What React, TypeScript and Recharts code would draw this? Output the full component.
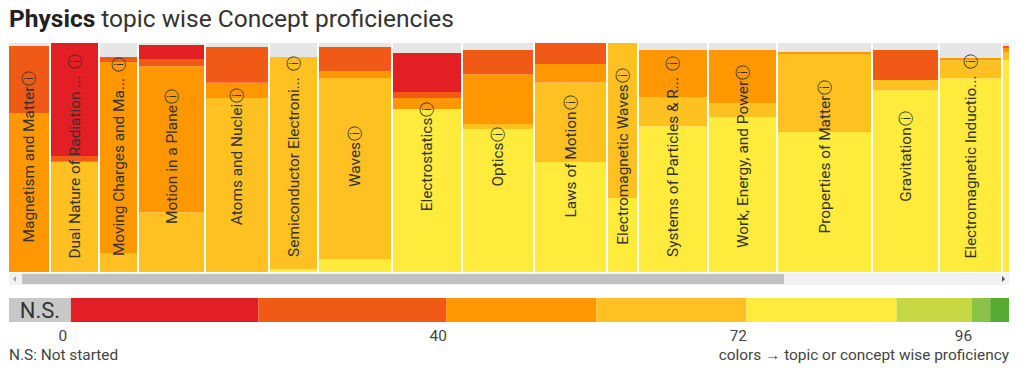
import { ComposedChart, XAxis, YAxis, ReferenceArea } from "recharts";

// topics (columns) as seen in the visible part of the scroller
const topics = [
  "Magnetism and Matter",
  "Dual Nature of Radiation ...",
  "Moving Charges and Ma...",
  "Motion in a Plane",
  "Atoms and Nuclei",
  "Semiconductor Electroni...",
  "Waves",
  "Electrostatics",
  "Optics",
  "Laws of Motion",
  "Electromagnetic Waves",
  "Systems of Particles & R...",
  "Work, Energy, and Power",
  "Properties of Matter",
  "Gravitation",
  "Electromagnetic Inductio...",
  "Current Electricity",
];

// relative column weight (concept count share)
const topicWeights = [42, 49, 39, 67, 64, 49, 74, 70, 72, 73, 31, 70, 69, 95, 67, 63, 66];

// % of concepts in each proficiency band, per topic
const notStarted = [1.3, 0, 6.1, 0.9, 1.7, 6.1, 1.7, 4.4, 3.1, 0, 0, 3.1, 3.1, 3.9, 3.1, 6.6, 1.3];
const bandRed = [0, 49.3, 0, 6.1, 0, 0, 0, 17.0, 0, 0, 0, 0, 0, 0, 0, 0, 0];
const bandOrangeRed = [29.3, 2.6, 2.2, 3.1, 15.7, 0, 10.5, 2.6, 10.5, 9.2, 0, 0, 0, 0, 13.1, 0, 0.9];
const bandOrange = [69.4, 0, 83.4, 63.8, 6.6, 0, 3.1, 4.8, 21.8, 7.9, 0, 20.5, 23.1, 0.9, 0, 0.9, 1.7];
const bandLightOrange = [0, 48.1, 8.3, 26.1, 76.0, 92.6, 79.0, 0, 2.2, 34.9, 67.7, 12.7, 6.1, 34.1, 4.4, 7.9, 3.5];
const bandYellow = [0, 0, 0, 0, 0, 1.3, 5.7, 71.2, 62.4, 48.0, 32.3, 63.7, 67.7, 61.1, 79.4, 84.6, 92.6];

// legend scale
const legendThresholds = [0, 20, 40, 56, 72, 88, 96, 98, 100];
const legendTicks = [0, 40, 72, 96];
const notStartedSpan = 6.6;

const COLORS = {
  ns: "#e6e6e6",
  nsLegend: "#c8c8c8",
  red: "#e31e24",
  orangeRed: "#f15a16",
  orange: "#ff9800",
  lightOrange: "#ffc022",
  yellow: "#ffeb3b",
  lightGreen: "#c6d944",
  green: "#8bc34a",
  darkGreen: "#55aa33",
};
const legendColors = [
  COLORS.red,
  COLORS.orangeRed,
  COLORS.orange,
  COLORS.lightOrange,
  COLORS.yellow,
  COLORS.lightGreen,
  COLORS.green,
  COLORS.darkGreen,
];

const FONT = "Roboto, 'Noto Sans', sans-serif";
const VISIBLE = 1000;
const GAP = 2;
const SMALL = 15.4;

// bottom -> top stacking
const bands = [
  { values: bandYellow, color: COLORS.yellow },
  { values: bandLightOrange, color: COLORS.lightOrange },
  { values: bandOrange, color: COLORS.orange },
  { values: bandOrangeRed, color: COLORS.orangeRed },
  { values: bandRed, color: COLORS.red },
  { values: notStarted, color: COLORS.ns },
];

const columns = (() => {
  let start = 0;
  return topics.map((name, i) => {
    const col = { name, start, end: start + topicWeights[i], index: i, total: 100 };
    start += topicWeights[i];
    return col;
  });
})();

const renderTopicLabel = (name: string) => (props: any) => {
  const { x, y, width, height } = props.viewBox;
  const cx = x + width / 2;
  const cy = y + height / 2 - 1;
  const truncated = name.endsWith("...");
  return (
    <text
      x={cx}
      y={cy}
      transform={`rotate(-90 ${cx} ${cy})`}
      textAnchor="middle"
      dominantBaseline="central"
      fontSize={SMALL}
      fontFamily={FONT}
      fill="#333"
    >
      {name}
      <tspan dx={truncated ? 6 : 1} fontFamily="'DejaVu Sans'" fontSize={15}>
        ⓘ
      </tspan>
    </text>
  );
};

function TopicChart() {
  // only topics whose middle is inside the scrolled view get a label
  const labelled = columns.filter((c) => (c.start + c.end) / 2 < VISIBLE);
  return (
    <ComposedChart
      width={VISIBLE}
      height={229}
      data={columns}
      margin={{ top: 0, right: 0, bottom: 0, left: 0 }}
      style={{ overflow: "hidden" }}
    >
      <XAxis type="number" dataKey="start" domain={[0, VISIBLE]} allowDataOverflow hide />
      <YAxis type="number" dataKey="total" domain={[0, 100]} allowDataOverflow hide />
      {columns.map((col) => {
        let acc = 0;
        return bands.map((band, b) => {
          const v = band.values[col.index];
          const y1 = acc;
          acc += v;
          if (v <= 0) return null;
          return (
            <ReferenceArea
              key={`${col.index}-${b}`}
              x1={col.start}
              x2={col.end - GAP}
              y1={y1}
              y2={acc}
              fill={band.color}
              fillOpacity={1}
              stroke="none"
              ifOverflow="hidden"
            />
          );
        });
      })}
      {labelled.map((col) => (
        <ReferenceArea
          key={`label-${col.index}`}
          x1={col.start}
          x2={col.end - GAP}
          y1={0}
          y2={100}
          fill="none"
          fillOpacity={0}
          stroke="none"
          label={renderTopicLabel(col.name)}
        />
      ))}
    </ComposedChart>
  );
}

function LegendChart() {
  return (
    <ComposedChart
      width={VISIBLE}
      height={50}
      data={legendTicks.map((t) => ({ t, level: 1 }))}
      margin={{ top: 0, right: 0, bottom: 0, left: 0 }}
    >
      <XAxis
        type="number"
        dataKey="t"
        domain={[-notStartedSpan, 100]}
        ticks={legendTicks}
        axisLine={false}
        tickLine={false}
        height={26}
        tick={{ fontSize: SMALL, fill: "#444", fontFamily: FONT, dx: -8 }}
      />
      <YAxis type="number" dataKey="level" domain={[0, 1]} allowDataOverflow hide />
      <ReferenceArea
        x1={-notStartedSpan}
        x2={0}
        y1={0}
        y2={1}
        fill={COLORS.nsLegend}
        fillOpacity={1}
        stroke="none"
        label={{ value: "N.S.", position: "center", fontSize: 22, fill: "#333", fontFamily: FONT }}
      />
      {legendColors.map((c, i) => (
        <ReferenceArea
          key={i}
          x1={legendThresholds[i]}
          x2={legendThresholds[i + 1]}
          y1={0}
          y2={1}
          fill={c}
          fillOpacity={1}
          stroke="none"
        />
      ))}
    </ComposedChart>
  );
}

export default function App() {
  return (
    <div
      style={{
        position: "absolute",
        left: 0,
        top: 0,
        width: 1024,
        height: 377,
        background: "#fff",
        fontFamily: FONT,
        overflow: "hidden",
      }}
    >
      <div
        style={{
          position: "absolute",
          left: 9,
          top: 7,
          fontSize: 24.5,
          lineHeight: "24px",
          color: "#333",
          whiteSpace: "nowrap",
        }}
      >
        <span style={{ fontWeight: 700, color: "#222" }}>Physics</span> topic wise Concept proficiencies
      </div>

      <div style={{ position: "absolute", left: 9, top: 43, width: VISIBLE, height: 229, overflow: "hidden" }}>
        <TopicChart />
      </div>

      {/* scrollbar */}
      <div
        style={{
          position: "absolute",
          left: 9,
          top: 273,
          width: VISIBLE,
          height: 12,
          background: "#f1f1f1",
        }}
      >
        <div
          style={{
            position: "absolute",
            left: 13,
            top: 1,
            width: 762,
            height: 10,
            background: "#c1c1c1",
          }}
        />
        <div
          style={{
            position: "absolute",
            left: 4,
            top: 3,
            width: 0,
            height: 0,
            borderTop: "3px solid transparent",
            borderBottom: "3px solid transparent",
            borderRight: "3px solid #a3a3a3",
          }}
        />
        <div
          style={{
            position: "absolute",
            left: 993,
            top: 3,
            width: 0,
            height: 0,
            borderTop: "3px solid transparent",
            borderBottom: "3px solid transparent",
            borderLeft: "3px solid #505050",
          }}
        />
      </div>

      <div style={{ position: "absolute", left: 9, top: 298 }}>
        <LegendChart />
      </div>

      <div
        style={{
          position: "absolute",
          left: 9,
          top: 347,
          fontSize: SMALL,
          lineHeight: "17px",
          color: "#444",
        }}
      >
        N.S: Not started
      </div>
      <div
        style={{
          position: "absolute",
          right: 15,
          top: 347,
          fontSize: SMALL,
          lineHeight: "17px",
          color: "#444",
          whiteSpace: "nowrap",
        }}
      >
        colors → topic or concept wise proficiency
      </div>
    </div>
  );
}
